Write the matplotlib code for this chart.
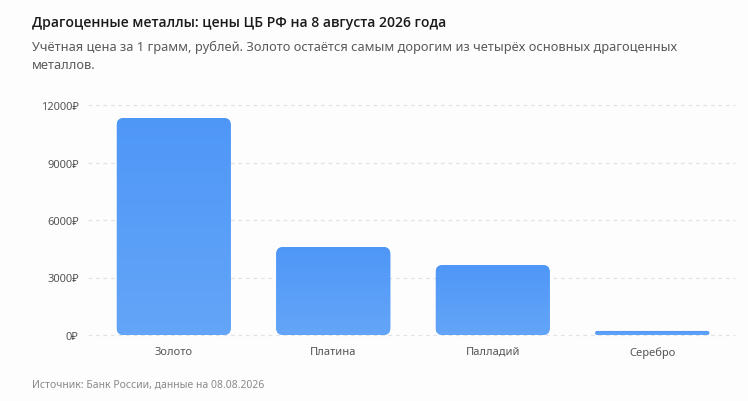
import matplotlib
matplotlib.use("Agg")
import matplotlib.pyplot as plt
import numpy as np
from matplotlib.patches import FancyBboxPatch
from matplotlib.colors import LinearSegmentedColormap

plt.rcParams['font.family'] = ['Noto Sans', 'DejaVu Sans']

categories = ["Золото", "Платина", "Палладий", "Серебро"]
values = [11320, 4590, 3650, 210]
yticks = [0, 3000, 6000, 9000, 12000]
ytick_labels = ["0₽", "3000₽", "6000₽", "9000₽", "12000₽"]

title = "Драгоценные металлы: цены ЦБ РФ на 8 августа 2026 года"
subtitle = "Учётная цена за 1 грамм, рублей. Золото остаётся самым дорогим из четырёх основных драгоценных\nметаллов."
source = "Источник: Банк России, данные на 08.08.2026"

W, H = 748, 402
fig = plt.figure(figsize=(W / 100, H / 100), dpi=100)
fig.patch.set_facecolor("#fdfdfd")

left, right = 94, 732
top, bottom = 106, 336
ax = fig.add_axes([left / W, 1 - bottom / H, (right - left) / W, (bottom - top) / H])
ax.set_facecolor("none")
ax.set_xlim(-0.5, len(categories) - 0.5)
ax.set_ylim(0, 12000)

for s in ax.spines.values():
    s.set_visible(False)

ax.set_yticks(yticks)
ax.set_yticklabels(ytick_labels)
ax.tick_params(axis='y', length=0, pad=11, labelsize=8, labelcolor="#555555")
ax.set_xticks(range(len(categories)))
ax.set_xticklabels(categories)
ax.tick_params(axis='x', length=0, pad=8, labelsize=8, labelcolor="#555555")

for yv in yticks:
    ax.plot([-0.54, 3.52], [yv, yv], color="#e3e3e3", lw=0.9, ls=(0, (3, 3)), zorder=0, clip_on=False)

cmap = LinearSegmentedColormap.from_list("g", ["#63a5f8", "#4f97f7"])
bw = 0.715
px_x = (len(categories)) / (right - left)
px_y = 12000 / (bottom - top)
r_px = 7
for i, v in enumerate(values):
    x0 = i - bw / 2
    h = v
    rpx = min(r_px, (h / px_y) / 2)
    patch = FancyBboxPatch((x0, 0), bw, h,
                           boxstyle=f"round,pad=0,rounding_size={rpx * px_x}",
                           mutation_aspect=px_y / px_x,
                           facecolor="#58a0f8", edgecolor="none", zorder=2)
    ax.add_patch(patch)
    grad = np.linspace(0, 1, 256).reshape(-1, 1)
    im = ax.imshow(grad, extent=(x0, x0 + bw, 0, h), origin="lower", cmap=cmap,
                   aspect="auto", zorder=3, interpolation="bilinear")
    im.set_clip_path(patch)

ax.set_xlim(-0.5, len(categories) - 0.5)
ax.set_ylim(0, 12000)

fig.text(32 / W, 1 - 22.5 / H, title, fontsize=10.1, fontweight="semibold",
         family=["Open Sans", "DejaVu Sans"], color="#1a1a1a", va="center", ha="left")
fig.text(32 / W, 1 - 41 / H, subtitle, fontsize=9.25, color="#5a5a5a", va="top", ha="left", linespacing=1.5)
fig.text(32 / W, 1 - 385 / H, source, fontsize=7.5, color="#8a8a8a", va="center", ha="left")

fig.savefig("out.png", dpi=100, facecolor=fig.get_facecolor())
